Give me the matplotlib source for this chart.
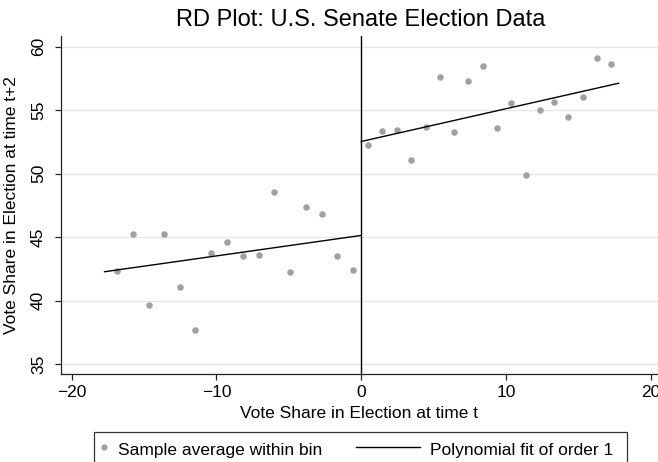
import matplotlib
matplotlib.use("Agg")
import matplotlib.pyplot as plt
from matplotlib.lines import Line2D
from matplotlib.patches import Rectangle

# ---- data ----
bin_x_left = [-16.87, -15.80, -14.69, -13.61, -12.53, -11.45, -10.35, -9.25,
              -8.19, -7.08, -6.01, -4.91, -3.83, -2.74, -1.67, -0.57]
bin_y_left = [42.35, 45.21, 39.68, 45.21, 41.04, 37.66, 43.71, 44.65,
              43.48, 43.58, 48.53, 42.27, 47.35, 46.83, 43.48, 42.43]
bin_x_right = [0.48, 1.45, 2.45, 3.45, 4.44, 5.41, 6.40, 7.40, 8.39,
               9.37, 10.36, 11.35, 12.35, 13.32, 14.31, 15.31, 16.28, 17.27]
bin_y_right = [52.22, 53.35, 53.40, 51.05, 53.64, 57.60, 53.27, 57.31, 58.49,
               53.58, 55.54, 49.87, 54.98, 55.64, 54.43, 56.04, 59.12, 58.62]
fit_x_left = [-17.73, 0.0]
fit_y_left = [42.27, 45.13]
fit_x_right = [0.0, 17.78]
fit_y_right = [52.53, 57.12]
cutoff = 0.0
x_ticks = [-20, -10, 0, 10, 20]
y_ticks = [35, 40, 45, 50, 55, 60]
title = "RD Plot: U.S. Senate Election Data"
x_label = "Vote Share in Election at time t"
y_label = "Vote Share in Election at time t+2"
legend_labels = ["Sample average within bin", "Polynomial fit of order 1"]

# ---- style ----
plt.rcParams['font.family'] = ['Liberation Sans', 'DejaVu Sans']
FS = 12.5
W, H = 658, 462
fig = plt.figure(figsize=(W / 100, H / 100), dpi=100)

def fx(px):
    return px / W

def fy(py):
    return 1 - py / H

ax_l, ax_r, ax_t, ax_b = 60.7, 658.0, 36.0, 374.3
ax = fig.add_axes([fx(ax_l), fy(ax_b), fx(ax_r - ax_l), (ax_b - ax_t) / H])

dot_color = '#a0a0a0'
line_color = 'black'

ax.scatter(bin_x_left + bin_x_right, bin_y_left + bin_y_right,
           s=22, color=dot_color, linewidths=0, zorder=3)
ax.plot(fit_x_left, fit_y_left, color=line_color, lw=1.0, zorder=4)
ax.plot(fit_x_right, fit_y_right, color=line_color, lw=1.0, zorder=4)
ax.axvline(cutoff, color=line_color, lw=1.0, zorder=2)

ax.set_xlim(-20.76, 20.5)
ax.set_ylim(34.19, 60.84)
ax.set_xticks(x_ticks)
ax.set_yticks(y_ticks)
ax.yaxis.grid(True, color='#e6e6e6', lw=1.0)
ax.set_axisbelow(True)

for side in ['top', 'right']:
    ax.spines[side].set_visible(False)
for side in ['left', 'bottom']:
    ax.spines[side].set_color('#222222')
    ax.spines[side].set_linewidth(0.9)

ax.tick_params(axis='both', direction='out', length=4.6, width=0.9,
               color='#222222', labelsize=FS, labelcolor='black')
ax.tick_params(axis='x', pad=3)
ax.tick_params(axis='y', pad=6)
for lab in ax.get_yticklabels():
    lab.set_rotation(90)
    lab.set_va('center')

ax.set_xlabel(x_label, fontsize=FS, labelpad=4.5)
fig.text(fx(4), fy((ax_t + ax_b) / 2), y_label, fontsize=FS, rotation=90,
         ha='left', va='center')

fig.text(fx(361), fy(26), title, fontsize=17, ha='center', va='baseline')

# ---- legend box ----
lg_l, lg_r, lg_t = 94.3, 627.0, 431.7
fig.add_artist(Rectangle((fx(lg_l), fy(470)), fx(lg_r - lg_l), (470 - lg_t) / H,
                         transform=fig.transFigure, facecolor='white',
                         edgecolor='#333333', lw=0.9))
ty = fy(447)
tb = fy(455)
fig.add_artist(Line2D([fx(104)], [ty], transform=fig.transFigure, marker='o',
                      markersize=4.5, color=dot_color, markeredgewidth=0, ls='none'))
fig.text(fx(118), tb, legend_labels[0], fontsize=FS, ha='left', va='baseline')
fig.add_artist(Line2D([fx(356), fx(420)], [ty, ty], transform=fig.transFigure,
                      color=line_color, lw=1.0))
fig.text(fx(430), tb, legend_labels[1], fontsize=FS, ha='left', va='baseline')

fig.savefig("out.png", dpi=100)
